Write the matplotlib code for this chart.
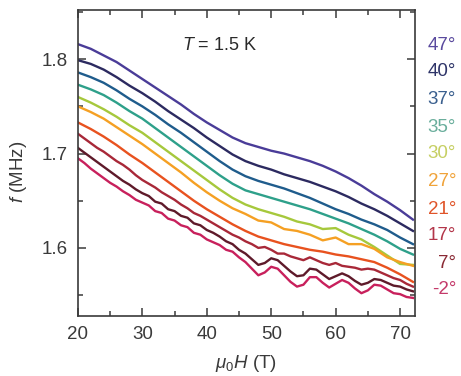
import numpy as np
import matplotlib
matplotlib.use('Agg')
import matplotlib.pyplot as plt
from matplotlib.ticker import MultipleLocator

plt.rcParams['font.family'] = ['Liberation Sans', 'DejaVu Sans']
plt.rcParams['mathtext.fontset'] = 'custom'
plt.rcParams['mathtext.rm'] = 'Liberation Sans'
plt.rcParams['mathtext.it'] = 'Liberation Sans:italic'

# field grids (T)
x_coarse = np.arange(20, 73, 2)
x_fine = np.arange(20, 73, 1)

# f (MHz) for each angle
f_47 = [1.816, 1.811, 1.804, 1.797, 1.788, 1.779, 1.770, 1.761, 1.752, 1.742, 1.733, 1.725, 1.717, 1.711,
        1.707, 1.703, 1.700, 1.696, 1.692, 1.687, 1.681, 1.674, 1.666, 1.657, 1.649, 1.640, 1.630]
f_40 = [1.799, 1.795, 1.789, 1.781, 1.772, 1.764, 1.755, 1.745, 1.736, 1.727, 1.717, 1.708, 1.699, 1.692,
        1.687, 1.683, 1.678, 1.674, 1.670, 1.665, 1.660, 1.654, 1.647, 1.641, 1.634, 1.626, 1.618]
f_37 = [1.786, 1.781, 1.775, 1.767, 1.758, 1.750, 1.741, 1.731, 1.722, 1.712, 1.702, 1.692, 1.683, 1.676,
        1.671, 1.667, 1.663, 1.658, 1.653, 1.647, 1.641, 1.636, 1.630, 1.625, 1.619, 1.611, 1.604]
f_35 = [1.773, 1.768, 1.762, 1.754, 1.745, 1.737, 1.727, 1.717, 1.707, 1.697, 1.687, 1.677, 1.668, 1.661,
        1.657, 1.653, 1.649, 1.645, 1.641, 1.636, 1.631, 1.626, 1.620, 1.614, 1.607, 1.599, 1.593]
f_30 = [1.760, 1.754, 1.747, 1.739, 1.730, 1.722, 1.712, 1.702, 1.692, 1.682, 1.672, 1.662, 1.653, 1.646,
        1.641, 1.637, 1.633, 1.628, 1.625, 1.620, 1.621, 1.614, 1.609, 1.601, 1.592, 1.583, 1.582]
f_27 = [1.750, 1.744, 1.737, 1.728, 1.719, 1.710, 1.700, 1.690, 1.680, 1.669, 1.659, 1.650, 1.642, 1.636,
        1.629, 1.627, 1.620, 1.618, 1.614, 1.608, 1.611, 1.604, 1.604, 1.599, 1.590, 1.585, 1.581]
f_21 = [1.733, 1.726, 1.718, 1.709, 1.699, 1.690, 1.680, 1.670, 1.660, 1.650, 1.641, 1.633, 1.625, 1.618,
        1.612, 1.608, 1.604, 1.601, 1.598, 1.596, 1.593, 1.591, 1.588, 1.585, 1.579, 1.572, 1.564]
f_17 = [1.721, 1.716, 1.711, 1.706, 1.702, 1.697, 1.692, 1.688, 1.683, 1.677, 1.672, 1.668, 1.664, 1.659,
        1.655, 1.651, 1.646, 1.642, 1.637, 1.634, 1.630, 1.626, 1.622, 1.618, 1.614, 1.611, 1.607, 1.604,
        1.600, 1.601, 1.598, 1.594, 1.594, 1.591, 1.589, 1.587, 1.590, 1.587, 1.584, 1.582, 1.584, 1.581,
        1.580, 1.579, 1.577, 1.578, 1.577, 1.574, 1.571, 1.568, 1.566, 1.562, 1.559]
f_7 = [1.706, 1.701, 1.696, 1.691, 1.686, 1.681, 1.676, 1.671, 1.667, 1.662, 1.658, 1.655, 1.649, 1.647,
       1.641, 1.639, 1.634, 1.632, 1.626, 1.624, 1.619, 1.616, 1.612, 1.607, 1.604, 1.598, 1.594, 1.588,
       1.582, 1.584, 1.589, 1.587, 1.581, 1.575, 1.570, 1.571, 1.578, 1.577, 1.572, 1.567, 1.570, 1.573,
       1.570, 1.565, 1.561, 1.563, 1.567, 1.566, 1.563, 1.560, 1.559, 1.556, 1.554]
f_m2 = [1.695, 1.690, 1.684, 1.679, 1.674, 1.669, 1.665, 1.660, 1.656, 1.651, 1.648, 1.645, 1.639, 1.637,
        1.631, 1.629, 1.624, 1.622, 1.616, 1.614, 1.609, 1.606, 1.603, 1.598, 1.596, 1.590, 1.585, 1.578,
        1.571, 1.574, 1.580, 1.578, 1.571, 1.564, 1.559, 1.561, 1.569, 1.569, 1.563, 1.558, 1.562, 1.566,
        1.563, 1.557, 1.552, 1.555, 1.561, 1.560, 1.556, 1.552, 1.551, 1.548, 1.547]

angles = ['47°', '40°', '37°', '35°', '30°', '27°', '21°', '17°', '7°', '-2°']
curves = [(x_coarse, f_47), (x_coarse, f_40), (x_coarse, f_37), (x_coarse, f_35), (x_coarse, f_30),
          (x_coarse, f_27), (x_coarse, f_21), (x_fine, f_17), (x_fine, f_7), (x_fine, f_m2)]
line_colors = ['#4a3c98', '#2c2a60', '#1f5c8c', '#2ea08a', '#a6c83c',
               '#f5a023', '#e8521f', '#a82838', '#5e1a2a', '#c8205c']
label_colors = ['#5a4a9e', '#2e3468', '#3a5f8e', '#6aae9c', '#c6cf63',
                '#f0a33a', '#e0552a', '#b3364a', '#8a2a35', '#c43a6a']
label_y = [45, 72, 99, 127, 154, 182, 210, 236, 263, 290]  # px from top

fig = plt.figure(figsize=(4.61, 3.76), dpi=100)
ax = fig.add_axes([0.169, 0.160, 0.731, 0.813])

for (xx, yy), c in zip(curves, line_colors):
    ax.plot(xx, yy, color=c, lw=1.7)

ax.set_xlim(20, 72.3)
ax.set_ylim(1.528, 1.852)
ax.xaxis.set_major_locator(MultipleLocator(10))
ax.xaxis.set_minor_locator(MultipleLocator(5))
ax.yaxis.set_major_locator(MultipleLocator(0.1))
ax.yaxis.set_minor_locator(MultipleLocator(0.05))
ax.tick_params(which='both', direction='in', top=True, right=True, colors='#3a3a3a',
               labelsize=13.5, width=1.1)
ax.tick_params(which='major', length=6, pad=7)
ax.tick_params(which='minor', length=3.5)
for s in ax.spines.values():
    s.set_color('#3a3a3a')
    s.set_linewidth(1.2)

ax.set_xlabel(r'$\mu_0H$ (T)', fontsize=13.5, color='#3a3a3a')
ax.xaxis.set_label_coords(0.5, -0.122)
ax.set_ylabel(r'$f$ (MHz)', fontsize=13.5, color='#3a3a3a')
ax.yaxis.set_label_coords(-0.145, 0.47)

ax.text(0.42, 0.885, r'$T$ = 1.5 K', transform=ax.transAxes, fontsize=13,
        color='#2a2a2a', ha='center', va='center')

for a, c, py in zip(angles, label_colors, label_y):
    fig.text(456 / 461, 1 - py / 376, a, color=c, fontsize=13.5, ha='right', va='center')

fig.savefig('out.png', dpi=100, facecolor='white')
